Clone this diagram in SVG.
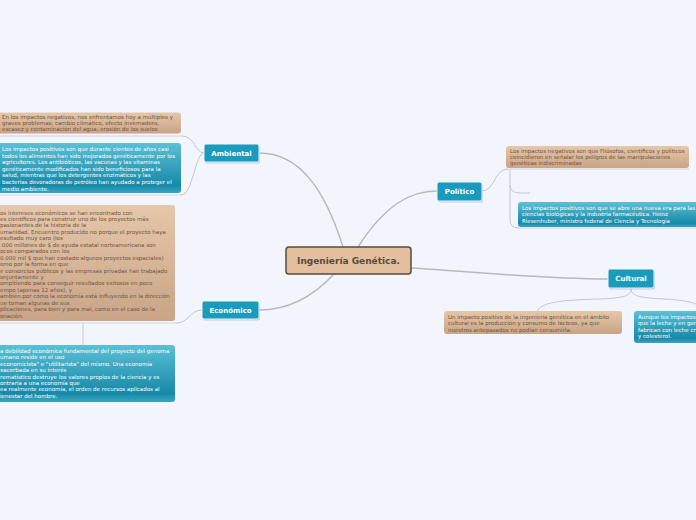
<svg xmlns="http://www.w3.org/2000/svg" width="696" height="520" viewBox="0 0 696 520">
<style>
.con{fill:none;stroke:#b8b9bd;stroke-width:1.5}
.sub{fill:none;stroke:#c4c6cc;stroke-width:1}
.ul{fill:none;stroke:#d3d6df;stroke-width:1}
.topic{fill:#1a9bbe;stroke:#eef3f8;stroke-width:1}
.shadow{fill:#8f9aa8;opacity:0.45}
.tl{font-family:"DejaVu Sans",Verdana,sans-serif;font-weight:bold;font-size:7px;fill:#ffffff;text-anchor:middle}
.tan{fill:url(#tanG)}
.blue{fill:url(#blueG)}
.nt{font-family:"DejaVu Sans",Verdana,sans-serif;font-size:5.5px;fill:#6e5541}
.nb{font-family:"DejaVu Sans",Verdana,sans-serif;font-size:5.5px;fill:#ffffff}
</style>
<defs>
<linearGradient id="tanG" x1="0" y1="0" x2="0" y2="1">
<stop offset="0" stop-color="#e6c7aa"/>
<stop offset="1" stop-color="#c9a486"/>
</linearGradient>
<linearGradient id="blueG" x1="0" y1="0" x2="0" y2="1">
<stop offset="0" stop-color="#5cc0d5"/>
<stop offset="0.85" stop-color="#1789a8"/>
<stop offset="1" stop-color="#3aa6c1"/>
</linearGradient>
</defs>
<rect width="696" height="520" fill="#f3f5fd"/>

<g id="connectors">
<path class="con" d="M343,247 C325,190 300,153 259,153"/>
<path class="con" d="M358,247 C385,205 410,191 437,191"/>
<path class="con" d="M334,274 C310,300 285,310 259,310"/>
<path class="con" d="M411,268 C480,272 540,279 608,279"/>
<path class="sub" d="M204,153 C195,153 195,136 182,136"/>
<path class="sub" d="M204,153 C195,153 193,195 181,195"/>
<path class="ul" d="M0,136 L182,136"/>
<path class="ul" d="M0,195 L181,195"/>
<path class="sub" d="M202,310 C190,310 189,323 176,323"/>
<path class="ul" d="M0,323 L176,323"/>
<path class="sub" d="M83,323 L83,345"/>
<path class="sub" d="M482,191 C495,191 494,169 508,169"/>
<path class="ul" d="M506,169 L689,169"/>
<path class="sub" d="M510,169 L510,185 Q510,193 520,193 L530,193"/>
<path class="sub" d="M510,185 L510,220 Q510,228 519,228"/>
<path class="ul" d="M518,228 L696,228"/>
<path class="sub" d="M631,289 C631,297 620,298 600,299 C560,300 543,302 537,311"/>
<path class="sub" d="M631,289 C631,297 645,298 665,299 C683,300 692,302 698,305"/>
</g>

<g id="central">
<rect x="286" y="247" width="125" height="27" rx="3" fill="#e2bf9f" stroke="#5c4a38" stroke-width="1.5"/>
<text x="348.5" y="264.2" font-family="DejaVu Sans, Verdana, sans-serif" font-weight="bold" font-size="9" fill="#5c4a38" text-anchor="middle">Ingeniería Genética.</text>
</g>

<g id="ambiental">
<rect class="shadow" x="205" y="145.5" width="55" height="18" rx="2"/>
<rect class="topic" x="204" y="144" width="55" height="18" rx="2"/>
<text class="tl" x="231.5" y="155.5">Ambiental</text>
</g>

<g id="economico">
<rect class="shadow" x="203" y="302.5" width="57" height="18" rx="2"/>
<rect class="topic" x="202" y="301" width="57" height="18" rx="2"/>
<text class="tl" x="230.5" y="312.5">Económico</text>
</g>

<g id="politico">
<rect class="shadow" x="438" y="183.5" width="45" height="19" rx="2"/>
<rect class="topic" x="437" y="182" width="45" height="19" rx="2"/>
<text class="tl" x="459.5" y="194">Político</text>
</g>

<g id="cultural">
<rect class="shadow" x="609" y="270.5" width="46" height="19" rx="2"/>
<rect class="topic" x="608" y="269" width="46" height="19" rx="2"/>
<text class="tl" x="631" y="281">Cultural</text>
</g>

<g id="amb-neg">
<rect class="tan" x="-4" y="112.5" width="185" height="21" rx="3"/>
<text class="nt" x="2" y="118.8">En los impactos negativos, nos enfrentamos hoy a múltiples y</text>
<text class="nt" x="2" y="124.8">graves problemas: cambio climático, efecto invernadero,</text>
<text class="nt" x="2" y="130.8">escasez y contaminación del agua, erosión de los suelos</text>
</g>

<g id="amb-pos">
<rect class="blue" x="-4" y="143" width="185" height="50" rx="3"/>
<text class="nb" x="2" y="151">Los impactos positivos son que durante cientos de años casi</text>
<text class="nb" x="2" y="157.6">todos los alimentos han sido mejorados genéticamente por los</text>
<text class="nb" x="2" y="164.2">agricultores. Los antibióticos, las vacunas y las vitaminas</text>
<text class="nb" x="2" y="170.8">genéticamente modificados han sido beneficiosos para la</text>
<text class="nb" x="2" y="177.4">salud, mientras que los detergentes enzimáticos y las</text>
<text class="nb" x="2" y="184">bacterias devoradoras de petróleo han ayudado a proteger el</text>
<text class="nb" x="2" y="190.6">medio ambiente.</text>
</g>

<g id="eco-note">
<rect class="tan" x="-4" y="205" width="179" height="116" rx="3"/>
<text class="nt" x="0" y="214.5">os intereses económicos se han encontrado con</text>
<text class="nt" x="0" y="221">es científicos para construir uno de los proyectos más</text>
<text class="nt" x="0" y="227.4">pasionantes de la historia de la</text>
<text class="nt" x="0" y="233.8">umanidad. Encuentro producido no porque el proyecto haya</text>
<text class="nt" x="0" y="240.3">esultado muy caro (los</text>
<text class="nt" x="0" y="246.7">.000 millones de $ de ayuda estatal norteamericana son</text>
<text class="nt" x="0" y="253.2">ocos comparados con los</text>
<text class="nt" x="0" y="259.6">0.000 mil $ que han costado algunos proyectos espaciales)</text>
<text class="nt" x="0" y="266">omo por la forma en que</text>
<text class="nt" x="0" y="272.5">e consorcios públicos y las empresas privadas han trabajado</text>
<text class="nt" x="0" y="279">onjuntamente y</text>
<text class="nt" x="0" y="285.4">ompitiendo para conseguir resultados exitosos en poco</text>
<text class="nt" x="0" y="291.8">empo (apenas 12 años), y</text>
<text class="nt" x="0" y="298.3">ambién por cómo la economía está influyendo en la dirección</text>
<text class="nt" x="0" y="304.7">ue toman algunas de sus</text>
<text class="nt" x="0" y="311.1">plicaciones, para bien y para mal, como en el caso de la</text>
<text class="nt" x="0" y="317.6">onación.</text>
</g>

<g id="eco-sub">
<rect class="blue" x="-4" y="345" width="179" height="57" rx="3"/>
<text class="nb" x="0" y="353">a debilidad económica fundamental del proyecto del genoma</text>
<text class="nb" x="0" y="359.4">umano reside en el uso</text>
<text class="nb" x="0" y="365.8">economicista" e "utilitarista" del mismo. Una economía</text>
<text class="nb" x="0" y="372.2">xacerbada en su interés</text>
<text class="nb" x="0" y="378.6">rematístico destruye los valores propios de la ciencia y es</text>
<text class="nb" x="0" y="385">ontraria a una economía que</text>
<text class="nb" x="0" y="391.4">ea realmente economía, el orden de recursos aplicados al</text>
<text class="nb" x="0" y="397.8">ienestar del hombre.</text>
</g>

<g id="pol-neg">
<rect class="tan" x="506" y="146" width="183" height="22" rx="3"/>
<text class="nt" x="510" y="152.5">Los impactos negativos son que Filósofos, científicos y políticos</text>
<text class="nt" x="510" y="158.6">coincidieron en señalar los peligros de las manipulaciones</text>
<text class="nt" x="510" y="165">genéticas indiscriminadas</text>
</g>

<g id="pol-pos">
<rect class="blue" x="518" y="202" width="184" height="25" rx="3"/>
<text class="nb" x="522" y="210">Los impactos positivos son que se abre una nueva era para las</text>
<text class="nb" x="522" y="216.3">ciencias biológicas y la industria farmacéutica. Heinz</text>
<text class="nb" x="522" y="222.6">Riesenhuber, ministro federal de Ciencia y Tecnología</text>
</g>

<g id="cul-pos">
<rect class="tan" x="444" y="311" width="178" height="23" rx="3"/>
<text class="nt" x="448" y="318.5">Un impacto positivo de la ingeniería genética en el ámbito</text>
<text class="nt" x="448" y="325">cultural es la producción y consumo de lácteos, ya que</text>
<text class="nt" x="448" y="331.5">nuestros antepasados no podían consumirla.</text>
</g>

<g id="cul-neg">
<rect class="blue" x="634" y="311" width="70" height="32" rx="3"/>
<text class="nb" x="638" y="318.5">Aunque los impactos</text>
<text class="nb" x="638" y="325">que la leche y en gen</text>
<text class="nb" x="638" y="331.5">fabrican con leche cr</text>
<text class="nb" x="638" y="338">y colesterol.</text>
</g>
</svg>
